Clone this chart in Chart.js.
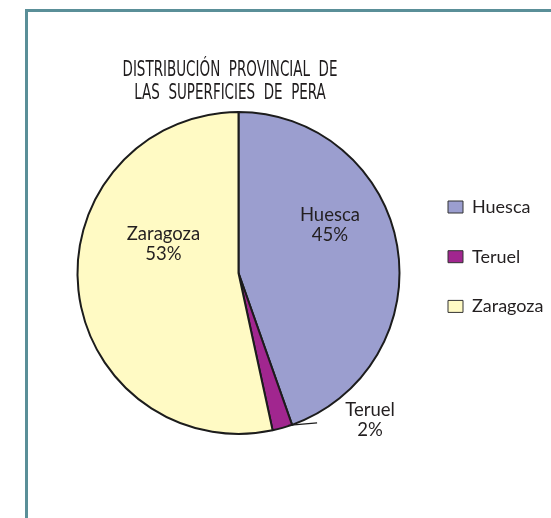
<!DOCTYPE html>
<html>
<head>
<meta charset="utf-8">
<script src="https://cdn.jsdelivr.net/npm/chart.js@4.4.1/dist/chart.umd.min.js"></script>
<style>
  html, body { margin: 0; padding: 0; background: #ffffff; }
  #wrap { width: 551px; height: 518px; }
</style>
</head>
<body>
<div id="wrap"><canvas id="c" width="551" height="518"></canvas></div>
<script>
// ---- data ----
const categories = ['Huesca', 'Teruel', 'Zaragoza'];
const values = [44.6, 2.0, 53.4];
const titleLines = ['DISTRIBUCIÓN  PROVINCIAL  DE', 'LAS  SUPERFICIES  DE  PERA'];

// ---- styles ----
const sliceColors = ['#9b9ecf', '#a1268f', '#fffac4'];
const textColor = '#231f20';
const labelFont = '18.5px Lato, "Open Sans", sans-serif';
const titleFont = '20.5px "DejaVu Sans Condensed", "DejaVu Sans", sans-serif';
const titleWidth = 215; // rendered width of the first title line

// label placement relative to pie centre, in units of the outer radius
const labelLayout = [
  { dx: 0.568, dy1: -0.323, dy2: -0.196, leader: false },
  { dx: 0.817, dy1: 0.888, dy2: 1.012, leader: true },
  { dx: -0.466, dy1: -0.205, dy2: -0.081, leader: false }
];

// legend geometry
const legendFontSize = 18;
const legendBoxW = 15, legendBoxH = 12, legendPad = 31.7;
const pieCx = 238.5;
const legendBoxX = 448;
const legendLeft = legendBoxX - legendPad;
const legendWidth = 551 - legendLeft;
const padLeft = 2 * pieCx - legendLeft;

const decor = {
  id: 'decor',
  beforeDraw(chart) {
    const ctx = chart.ctx;
    ctx.save();
    ctx.strokeStyle = '#5a8f98';
    ctx.lineWidth = 3;
    ctx.strokeRect(26.5, 10.5, 700, 700);
    // title (condensed)
    ctx.fillStyle = '#1e1b1c';
    ctx.font = titleFont;
    ctx.textAlign = 'center';
    ctx.textBaseline = 'alphabetic';
    const sx = titleWidth / ctx.measureText(titleLines[0]).width;
    const cx = 230;
    ctx.translate(cx, 0);
    ctx.scale(sx, 1);
    ctx.fillText(titleLines[0], 0, 75.5);
    ctx.fillText(titleLines[1], 0, 99);
    ctx.restore();
  },
  afterDatasetsDraw(chart) {
    const ctx = chart.ctx;
    const meta = chart.getDatasetMeta(0);
    const total = values.reduce((a, b) => a + b, 0);
    ctx.save();
    ctx.fillStyle = textColor;
    ctx.font = labelFont;
    ctx.textAlign = 'center';
    ctx.textBaseline = 'alphabetic';
    meta.data.forEach((arc, i) => {
      const p = arc.getProps(['x', 'y', 'outerRadius', 'startAngle'], true);
      const L = labelLayout[i];
      const r = p.outerRadius;
      const tx = p.x + L.dx * r;
      ctx.fillText(categories[i], tx, p.y + L.dy1 * r);
      ctx.fillText(Math.round(values[i] / total * 100) + '%', tx, p.y + L.dy2 * r);
      if (L.leader) {
        const sx = p.x + Math.cos(p.startAngle) * r;
        const sy = p.y + Math.sin(p.startAngle) * r;
        ctx.strokeStyle = '#1c1c1c';
        ctx.lineWidth = 1.2;
        ctx.beginPath();
        ctx.moveTo(sx - 4, sy + 0.5);
        ctx.lineTo(sx + 25, sy - 2);
        ctx.stroke();
      }
    });
    ctx.restore();
  }
};

new Chart(document.getElementById('c'), {
  type: 'pie',
  data: {
    labels: categories,
    datasets: [{
      data: values,
      backgroundColor: sliceColors,
      borderColor: '#1c1c1c',
      borderWidth: 2
    }]
  },
  options: {
    responsive: false,
    animation: false,
    devicePixelRatio: 1,
    events: [],
    layout: { padding: { top: 111, bottom: 83, left: padLeft, right: 0 } },
    plugins: {
      legend: {
        position: 'right',
        align: 'start',
        maxWidth: legendWidth,
        title: { display: true, text: ' ', font: { size: 16 }, padding: { top: 0, bottom: 36.1 } },
        labels: {
          boxWidth: legendBoxW,
          boxHeight: legendBoxH,
          padding: legendPad,
          color: textColor,
          font: { family: 'Lato', size: legendFontSize },
          generateLabels(chart) {
            const items = Chart.overrides.pie.plugins.legend.labels.generateLabels(chart);
            items.forEach(it => { it.lineWidth = 1; it.strokeStyle = '#333333'; });
            return items;
          }
        }
      },
      title: { display: false },
      tooltip: { enabled: false }
    }
  },
  plugins: [decor]
});
</script>
</body>
</html>
